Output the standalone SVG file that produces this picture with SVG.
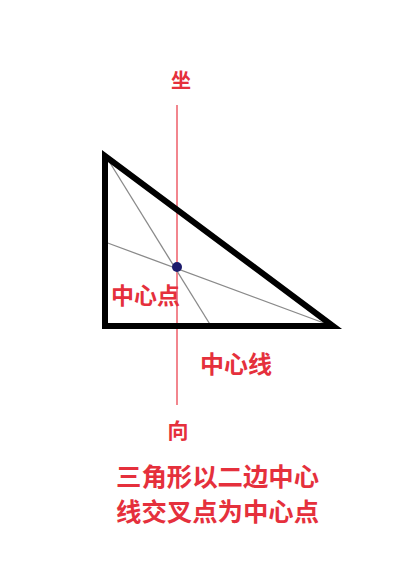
<svg xmlns="http://www.w3.org/2000/svg" width="410" height="584" viewBox="0 0 410 584">
<style>
.t{font-family:"Noto Sans CJK SC","Noto Sans",sans-serif;font-weight:bold;fill:#e5303c}
</style>
<rect width="410" height="584" fill="#ffffff"/>
<g id="axis">
<line x1="177" y1="105" x2="177" y2="405" stroke="#f2868e" stroke-width="2"/>
</g>
<g id="connectors">
<line x1="107" y1="158" x2="211" y2="326" stroke="#8a8a8a" stroke-width="1.3"/>
<line x1="105" y1="242" x2="332" y2="326" stroke="#8a8a8a" stroke-width="1.3"/>
</g>
<g id="triangle">
<polygon points="105,156 105,326 333,326" fill="none" stroke="#000000" stroke-width="6" stroke-linejoin="miter"/>
</g>
<g id="center">
<circle cx="177" cy="267" r="5" fill="#1c1a6b"/>
</g>
<g id="labels">
<text class="t" x="181" y="88" font-size="20" text-anchor="middle">坐</text>
<text class="t" x="111" y="304" font-size="23">中心点</text>
<text class="t" x="200" y="373" font-size="24">中心线</text>
<text class="t" x="178" y="438" font-size="21" text-anchor="middle">向</text>
<text class="t" x="116" y="486" font-size="25.4">三角形以二边中心</text>
<text class="t" x="116" y="521" font-size="25.4">线交叉点为中心点</text>
</g>
</svg>
